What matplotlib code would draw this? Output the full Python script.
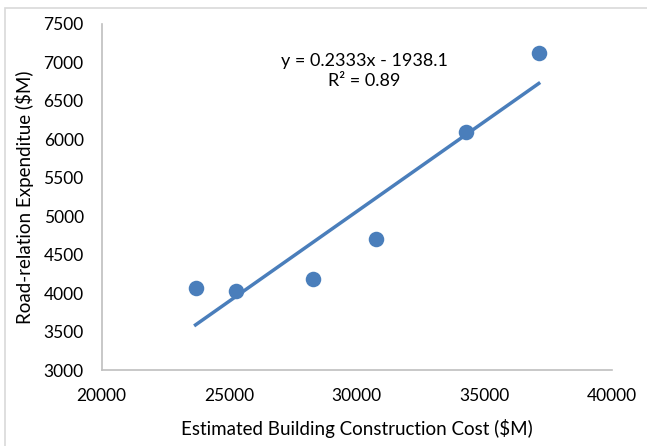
import matplotlib
matplotlib.use('Agg')
import matplotlib.pyplot as plt
import numpy as np
from matplotlib.patches import Rectangle

# data
build_cost = [23680, 25270, 28290, 30770, 34270, 37140]
road_exp = [4070, 4025, 4185, 4705, 6090, 7125]
slope = 0.2333
intercept = -1938.1
r2 = 0.89

plt.rcParams['font.family'] = ['Lato', 'DejaVu Sans']
blue = '#4a7ebb'
grey = '#bfbfbf'

fig = plt.figure(figsize=(6.47, 4.46), dpi=100)
ax = fig.add_axes([0.1572, 0.1704, 0.7882, 0.7758])

ax.scatter(build_cost, road_exp, s=125, color=blue, zorder=3, linewidths=0)

xfit = np.array([min(build_cost), max(build_cost)])
ax.plot(xfit, slope * xfit + intercept, color=blue, lw=2.5, zorder=2)

ax.set_xlim(20000, 40000)
ax.set_ylim(3000, 7500)
ax.set_xticks(np.arange(20000, 40001, 5000))
ax.set_yticks(np.arange(3000, 7501, 500))
ax.tick_params(length=0, labelsize=12.5, pad=13)
for s in ['top', 'right']:
    ax.spines[s].set_visible(False)
for s in ['left', 'bottom']:
    ax.spines[s].set_color(grey)
    ax.spines[s].set_linewidth(1.2)

ax.set_xlabel('Estimated Building Construction Cost ($M)', fontsize=13.5, labelpad=11)
ax.set_ylabel('Road-relation Expenditue ($M)', fontsize=13.5, labelpad=7)

ax.text(30290, 6890, 'y = %.4fx - %.1f\nR² = %.2f' % (slope, -intercept, r2),
        ha='center', va='center', fontsize=13, linespacing=1.35)

# chart area border
fig.patches.append(Rectangle((0.008, -0.01), 1.0, 0.992, transform=fig.transFigure,
                             fill=False, edgecolor='#d9d9d9', lw=1.2))

fig.savefig('out.png', dpi=100)
